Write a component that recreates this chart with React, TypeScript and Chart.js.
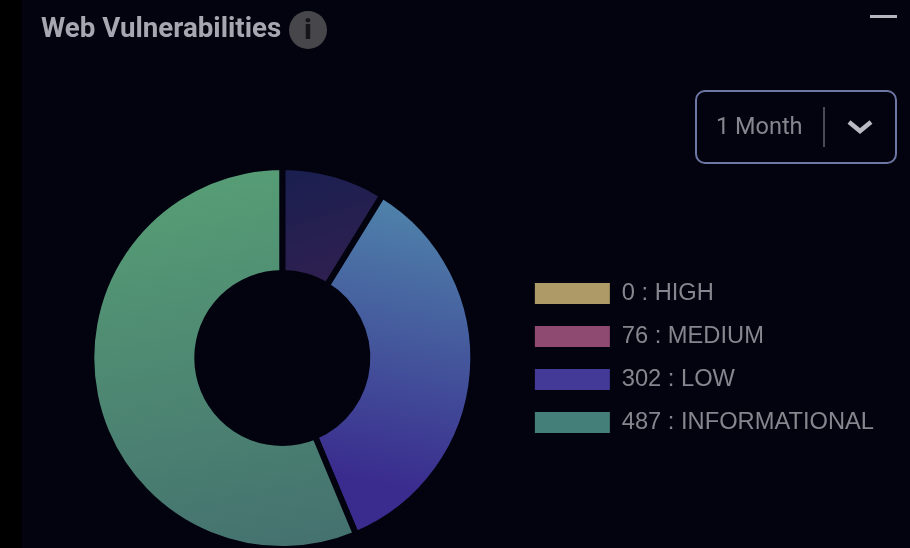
import React, { useEffect, useRef } from "react";
import { Chart, registerables } from "chart.js";

Chart.register(...registerables);

const categories = ["HIGH", "MEDIUM", "LOW", "INFORMATIONAL"];
const values = [0, 76, 302, 487];
const legendColors = ["#ae9a66", "#8e4a70", "#433a98", "#457f7a"];
const gradientStops: string[][] = [
  ["#ae9a66", "#ae9a66"],
  ["#181f50", "#2e2050"],
  ["#5088ac", "#3a2c8e"],
  ["#569d75", "#44706f"],
];
const titleText = "Web Vulnerabilities";
const rangeText = "1 Month";

const BG = "#02030e";
const FONT = "Roboto, 'Liberation Sans', sans-serif";
const LEGEND_FONT = "'Liberation Sans', Arial, sans-serif";

export default function App() {
  const ref = useRef<HTMLCanvasElement>(null);

  useEffect(() => {
    const canvas = ref.current;
    if (!canvas) return;
    const chart = new Chart(canvas, {
      type: "doughnut",
      data: {
        labels: categories,
        datasets: [
          {
            data: values,
            borderWidth: 6,
            borderColor: BG,
            borderJoinStyle: "bevel",
            backgroundColor: (c: any) => {
              const stops = gradientStops[c.dataIndex] ?? gradientStops[0];
              const area = c.chart.chartArea;
              if (!area) return stops[0];
              const isLow = c.dataIndex === 2;
              const isMedium = c.dataIndex === 1;
              const top = area.top;
              const h = area.bottom - area.top;
              const cx = (area.left + area.right) / 2;
              const g = c.chart.ctx.createLinearGradient(
                cx + (isLow ? 0.3 * h : isMedium ? 0 : -0.05 * h),
                top + (isLow ? 0.05 * h : 0),
                cx + (isLow ? 0.15 * h : isMedium ? 0.1 * h : 0.15 * h),
                top + (isLow ? 0.8 * h : isMedium ? 0.3 * h : h)
              );
              g.addColorStop(0, stops[0]);
              g.addColorStop(1, stops[1]);
              return g;
            },
          },
        ],
      },
      options: {
        responsive: false,
        animation: false,
        cutout: "44.5%",
        layout: { padding: { left: 49, top: 164, bottom: 0, right: 26 } },
        plugins: {
          tooltip: { enabled: false },
          title: { display: false },
          legend: {
            display: true,
            position: "right",
            align: "center",
            labels: {
              boxWidth: 75,
              boxHeight: 21,
              padding: 19.3,
              color: "#85868e",
              font: { family: LEGEND_FONT, size: 23.7 },
              generateLabels: () =>
                categories.map((name, i) => ({
                  text: `${values[i]} : ${name}`,
                  fillStyle: legendColors[i],
                  strokeStyle: legendColors[i],
                  lineWidth: 0,
                  fontColor: "#85868e",
                  hidden: false,
                  index: i,
                })),
            },
          },
        },
      },
    } as any);
    return () => chart.destroy();
  }, []);

  return (
    <div style={{ position: "fixed", left: 0, top: 0, width: 910, height: 548, background: BG, overflow: "hidden", fontFamily: FONT }}>
      <div style={{ position: "absolute", left: 0, top: 0, width: 22, height: 548, background: "#000" }} />
      <canvas ref={ref} width={910} height={552} style={{ position: "absolute", left: 0, top: 0, display: "block" }} />
      <div style={{ position: "absolute", left: 41, top: 12, fontSize: 27.7, lineHeight: "32px", fontWeight: 700, color: "#a6a7b1", whiteSpace: "nowrap" }}>{titleText}</div>
      <div style={{ position: "absolute", left: 289, top: 11, width: 38, height: 38, borderRadius: "50%", background: "#47474b", color: "#16161a", fontSize: 27, fontWeight: 900, lineHeight: "38px", textAlign: "center" }}>i</div>
      <div style={{ position: "absolute", left: 870, top: 15, width: 27, height: 3, background: "#b5b5bd" }} />
      <div style={{ position: "absolute", left: 695, top: 90, width: 202, height: 74, boxSizing: "border-box", border: "2.5px solid #6c77a3", borderRadius: 10 }} />
      <div style={{ position: "absolute", left: 716, top: 111, fontSize: 23.5, lineHeight: "30px", color: "#85868e", whiteSpace: "nowrap" }}>{rangeText}</div>
      <div style={{ position: "absolute", left: 823, top: 107, width: 1.5, height: 40, background: "#4a4a55" }} />
      <svg style={{ position: "absolute", left: 846, top: 118 }} width={28} height={18} viewBox="0 0 28 18">
        <path d="M3 4 L14 13 L25 4" fill="none" stroke="#b9bac2" strokeWidth={4.5} />
      </svg>
    </div>
  );
}
